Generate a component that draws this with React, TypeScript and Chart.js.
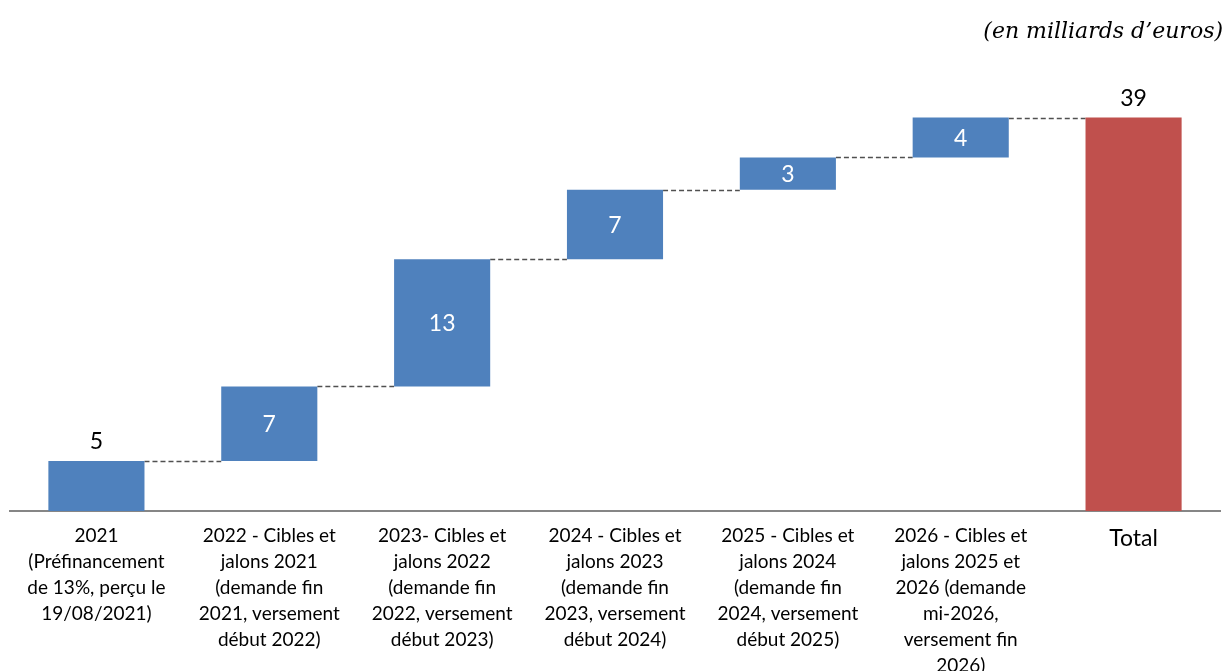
import { useEffect, useRef } from "react";
import { Chart, registerables } from "chart.js";

Chart.register(...registerables);

const categories: (string | string[])[] = [
  ["2021", "(Préfinancement", "de 13%, perçu le", "19/08/2021)"],
  ["2022 - Cibles et", "jalons 2021", "(demande fin", "2021, versement", "début 2022)"],
  ["2023- Cibles et", "jalons 2022", "(demande fin", "2022, versement", "début 2023)"],
  ["2024 - Cibles et", "jalons 2023", "(demande fin", "2023, versement", "début 2024)"],
  ["2025 - Cibles et", "jalons 2024", "(demande fin", "2024, versement", "début 2025)"],
  ["2026 - Cibles et", "jalons 2025 et", "2026 (demande", "mi-2026,", "versement fin", "2026)"],
  "Total",
];

const increments = [4.95, 7.4, 12.6, 6.9, 3.2, 3.95];
const totalValue = 39;
const displayLabels = ["5", "7", "13", "7", "3", "4", "39"];
const yMin = 0;
const yMax = 45;
const unitTitle = "(en milliards d’euros)";

const BLUE = "#4F81BD";
const RED = "#C0504D";
const FONT = "Lato";

export default function App() {
  const ref = useRef<HTMLCanvasElement>(null);

  useEffect(() => {
    if (!ref.current) return;
    const ranges: [number, number][] = [];
    let cum = 0;
    increments.forEach((v) => {
      ranges.push([cum, cum + v]);
      cum += v;
    });
    ranges.push([0, totalValue]);
    const colors = [...increments.map(() => BLUE), RED];

    const connectorPlugin = {
      id: "connectors",
      beforeDatasetsDraw(chart: any) {
        const meta = chart.getDatasetMeta(0);
        const y = chart.scales.y;
        const ctx = chart.ctx;
        ctx.save();
        ctx.setLineDash([5, 3]);
        ctx.strokeStyle = "#505050";
        ctx.lineWidth = 1.4;
        for (let i = 0; i < meta.data.length - 1; i++) {
          const a = meta.data[i];
          const b = meta.data[i + 1];
          const py = Math.round(y.getPixelForValue(ranges[i][1])) + 0.5;
          ctx.beginPath();
          ctx.moveTo(a.x + a.width / 2, py);
          ctx.lineTo(b.x - b.width / 2, py);
          ctx.stroke();
        }
        ctx.restore();
      },
    };

    const labelPlugin = {
      id: "valueLabels",
      afterDatasetsDraw(chart: any) {
        const meta = chart.getDatasetMeta(0);
        const ctx = chart.ctx;
        ctx.save();
        ctx.textAlign = "center";
        ctx.textBaseline = "middle";
        ctx.font = `23px ${FONT}`;
        meta.data.forEach((bar: any, i: number) => {
          const top = Math.min(bar.y, bar.base);
          const bottom = Math.max(bar.y, bar.base);
          if (i === 0 || i === meta.data.length - 1) {
            ctx.fillStyle = "#000";
            ctx.fillText(displayLabels[i], bar.x, top - 19);
          } else {
            ctx.fillStyle = "#ffffff";
            ctx.fillText(displayLabels[i], bar.x, (top + bottom) / 2 + 1);
          }
        });
        ctx.restore();
      },
    };

    const titlePlugin = {
      id: "unitTitle",
      afterDraw(chart: any) {
        const ctx = chart.ctx;
        ctx.save();
        ctx.font = `italic 22px "DejaVu Serif"`;
        ctx.textAlign = "right";
        ctx.textBaseline = "middle";
        ctx.fillStyle = "#000";
        ctx.fillText(unitTitle, chart.width - 5, 32);
        ctx.restore();
      },
    };

    const chart = new Chart(ref.current, {
      type: "bar",
      data: {
        labels: categories,
        datasets: [
          {
            data: ranges as any,
            backgroundColor: colors,
            borderWidth: 0,
            barPercentage: 0.556,
            categoryPercentage: 1,
          },
        ],
      },
      options: {
        responsive: false,
        animation: false,
        layout: { padding: { left: 10, right: 8, top: 57, bottom: 0 } },
        plugins: {
          legend: { display: false },
          tooltip: { enabled: false },
          title: { display: false },
        },
        scales: {
          x: {
            grid: { display: false, drawTicks: false },
            border: { display: true, color: "#868686", width: 2 },
            ticks: {
              autoSkip: false,
              maxRotation: 0,
              minRotation: 0,
              padding: 12,
              color: "#000",
              font: ((ctx: any) =>
                ctx.index === categories.length - 1
                  ? { family: FONT, size: 23, lineHeight: "32px" }
                  : { family: FONT, size: 19, lineHeight: "26px" }) as any,
            },
            afterFit(scale: any) {
              scale.height = 160;
            },
          },
          y: {
            display: false,
            min: yMin,
            max: yMax,
          },
        },
      },
      plugins: [connectorPlugin, labelPlugin, titlePlugin],
    });
    return () => chart.destroy();
  }, []);

  return (
    <div style={{ position: "fixed", left: 0, top: 0, width: 1228, height: 671, overflow: "hidden", background: "#fff" }}>
      <canvas ref={ref} width={1228} height={671} style={{ display: "block" }} />
    </div>
  );
}
